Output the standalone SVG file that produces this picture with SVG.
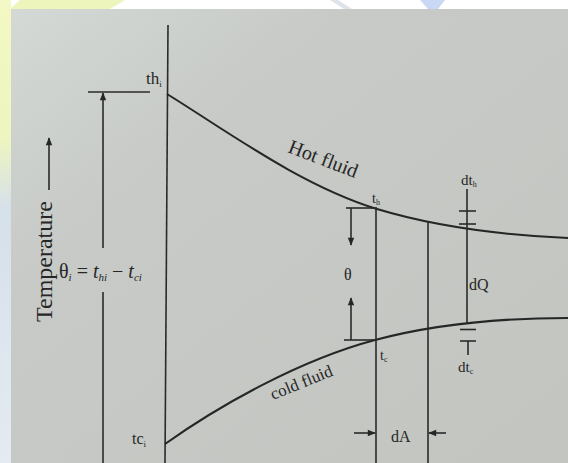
<svg xmlns="http://www.w3.org/2000/svg" width="568" height="463" viewBox="0 0 568 463">
<defs>
<linearGradient id="paper" x1="0" y1="0" x2="1" y2="1">
<stop offset="0" stop-color="#d4d9d5"/>
<stop offset="0.3" stop-color="#c7cac6"/>
<stop offset="1" stop-color="#c3c5c1"/>
</linearGradient>
<linearGradient id="leftwm" x1="0" y1="0" x2="0" y2="1">
<stop offset="0" stop-color="#f3f8c4"/>
<stop offset="0.3" stop-color="#eef5c0"/>
<stop offset="0.45" stop-color="#d6e0ea"/>
<stop offset="1" stop-color="#e4ebf2"/>
</linearGradient>
<marker id="ah" viewBox="0 0 10 10" refX="9" refY="5" markerWidth="9" markerHeight="8" markerUnits="userSpaceOnUse" orient="auto">
<path d="M0,1 L10,5 L0,9 Z" fill="#262626"/>
</marker>
</defs>
<style>
.ln{stroke:#2a2a2a;fill:none;stroke-width:1.6}
.cv{stroke:#262626;fill:none;stroke-width:2}
.t{font-family:"Liberation Serif","Times New Roman",serif;fill:#262626}
.it{font-style:italic}
</style>

<g id="background">
<rect x="0" y="0" width="568" height="463" fill="#ffffff"/>
<rect x="0" y="0" width="11" height="463" fill="url(#leftwm)"/>
<polygon points="20,0 125,0 110,9 10,9" fill="#eef5bc"/>
<polygon points="330,0 338,0 352,9 344,9" fill="#dfe3ea"/>
<polygon points="420,0 445,0 438,9 428,9" fill="#c9d8f4"/>
<rect x="11" y="9" width="557" height="454" fill="url(#paper)"/>
</g>

<g id="axes">
<line class="ln" x1="168" y1="25" x2="165" y2="463"/>
<line class="ln" x1="88" y1="92" x2="150" y2="92"/>
<line class="ln" x1="103" y1="248" x2="103" y2="93" marker-end="url(#ah)"/>
<line class="ln" x1="103" y1="292" x2="103" y2="463"/>
<line class="ln" x1="49" y1="190" x2="49" y2="138" marker-end="url(#ah)"/>
</g>

<g id="hot-fluid">
<path class="cv" d="M167,94 C230,133 300,185 377,209 C420,222 480,234 568,238"/>
<text class="t" font-size="20" transform="translate(287,152) rotate(21)">Hot fluid</text>
</g>

<g id="cold-fluid">
<path class="cv" d="M165,444 C220,405 300,360 375,340 C420,328 480,318 568,318"/>
<text class="t" font-size="17" transform="translate(273,400) rotate(-22)">cold fluid</text>
</g>

<g id="element">
<line class="ln" x1="376" y1="208" x2="376" y2="463"/>
<line class="ln" x1="428" y1="222" x2="428" y2="463"/>
<line class="ln" x1="354" y1="433" x2="375" y2="433" marker-end="url(#ah)"/>
<line class="ln" x1="446" y1="433" x2="429" y2="433" marker-end="url(#ah)"/>
<text class="t" font-size="16" x="391" y="442">dA</text>
</g>

<g id="theta">
<line class="ln" x1="346" y1="208" x2="377" y2="208"/>
<line class="ln" x1="351" y1="208" x2="351" y2="245" marker-end="url(#ah)"/>
<line class="ln" x1="344" y1="340" x2="375" y2="340"/>
<line class="ln" x1="351" y1="340" x2="351" y2="298" marker-end="url(#ah)"/>
<text class="t" font-size="16" x="344" y="280">θ</text>
</g>

<g id="dQ">
<line class="ln" x1="467" y1="189" x2="467" y2="323"/>
<line class="ln" x1="459" y1="211" x2="476" y2="211"/>
<line class="ln" x1="459" y1="224" x2="476" y2="224"/>
<line class="ln" x1="460" y1="329.5" x2="476" y2="329.5"/>
<line class="ln" x1="460" y1="341" x2="476" y2="341"/>
<line class="ln" x1="468" y1="341" x2="468" y2="355"/>
<text class="t" font-size="16" x="469" y="290">dQ</text>
</g>

<g id="labels">
<text class="t" font-size="17" x="146" y="84">th<tspan font-size="9" dy="3">i</tspan></text>
<text class="t" font-size="16" x="132" y="444">tc<tspan font-size="9" dy="3">i</tspan></text>
<text class="t" font-size="14" x="372" y="203">t<tspan font-size="8" dy="2">h</tspan></text>
<text class="t" font-size="14" x="380" y="360">t<tspan font-size="8" dy="2">c</tspan></text>
<text class="t" font-size="15" x="461" y="185">dt<tspan font-size="8" dy="2">h</tspan></text>
<text class="t" font-size="15" x="458" y="372">dt<tspan font-size="8" dy="2">c</tspan></text>
<text class="t" font-size="20" x="59" y="278">θ<tspan class="it" font-size="11" dy="3">i</tspan><tspan dy="-3"> = </tspan><tspan class="it">t</tspan><tspan class="it" font-size="11" dy="3">hi</tspan><tspan dy="-3"> − </tspan><tspan class="it">t</tspan><tspan class="it" font-size="11" dy="3">ci</tspan></text>
<text class="t" font-size="24" transform="translate(52,322) rotate(-90)">Temperature</text>
</g>
</svg>
